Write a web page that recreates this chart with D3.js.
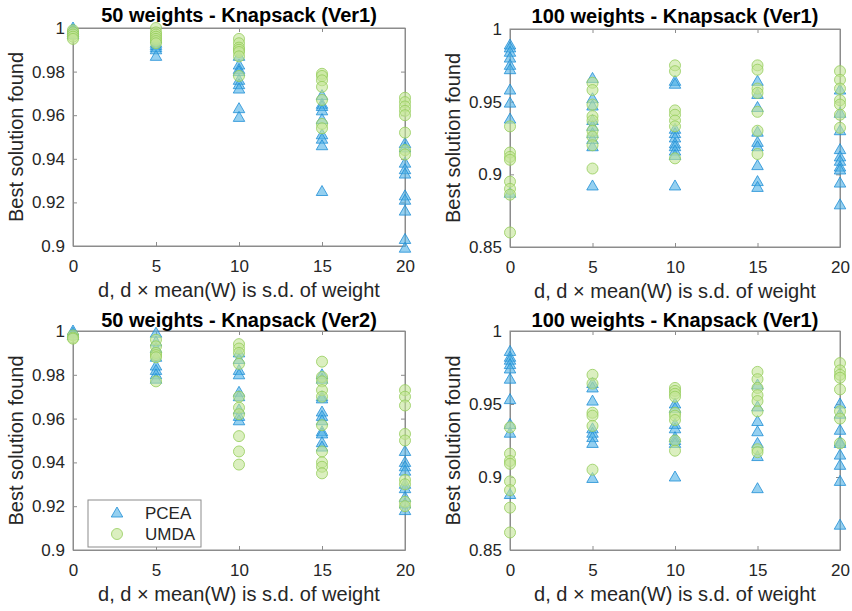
<!DOCTYPE html>
<html>
<head>
<meta charset="utf-8">
<script src="https://cdn.jsdelivr.net/npm/d3@7"></script>
<style>
  html, body { margin: 0; padding: 0; background: #fff; }
  svg { display: block; font-family: "Liberation Sans", Arial, Helvetica, sans-serif; }
</style>
</head>
<body>
<svg id="chart" width="852" height="611"></svg>
<script>
// ---------- DATA ----------
const xValues = [0, 5, 10, 15, 20];
const xTickLabels = ["0", "5", "10", "15", "20"];
const seriesNames = ["PCEA", "UMDA"];
const panelTitles = [
  "50 weights - Knapsack (Ver1)",
  "100 weights - Knapsack (Ver1)",
  "50 weights - Knapsack (Ver2)",
  "100 weights - Knapsack (Ver1)"
];
const xAxisLabel = "d, d \u00d7 mean(W) is s.d. of weight";
const yAxisLabel = "Best solution found";
const yTicksA = [0.9, 0.92, 0.94, 0.96, 0.98, 1];
const yTickLabelsA = ["0.9", "0.92", "0.94", "0.96", "0.98", "1"];
const yTicksB = [0.85, 0.9, 0.95, 1];
const yTickLabelsB = ["0.85", "0.9", "0.95", "1"];

// Panel 1: 50 weights Ver1 (per x value)
const p1PCEA = [
  [1.0, 0.999, 0.998, 0.997],
  [0.995, 0.993, 0.992, 0.991, 0.990, 0.987],
  [0.987, 0.983, 0.981, 0.980, 0.976, 0.974, 0.972, 0.963, 0.959],
  [0.969, 0.965, 0.964, 0.962, 0.958, 0.951, 0.949, 0.946, 0.925],
  [0.947, 0.945, 0.938, 0.935, 0.933, 0.923, 0.921, 0.916, 0.903, 0.899]
];
const p1UMDA = [
  [0.999, 0.998, 0.997, 0.996, 0.995],
  [1.0, 0.998, 0.997, 0.996, 0.995, 0.994, 0.993],
  [0.995, 0.993, 0.991, 0.990, 0.989, 0.987, 0.978],
  [0.979, 0.978, 0.976, 0.973, 0.967, 0.956, 0.954],
  [0.968, 0.966, 0.964, 0.962, 0.960, 0.952, 0.944, 0.942]
];
// Panel 2: 100 weights Ver1 (top)
const p2PCEA = [
  [0.989, 0.987, 0.984, 0.980, 0.975, 0.972, 0.958, 0.949, 0.938, 0.887],
  [0.966, 0.952, 0.947, 0.937, 0.933, 0.928, 0.924, 0.919, 0.892],
  [0.964, 0.962, 0.931, 0.928, 0.925, 0.921, 0.919, 0.916, 0.913, 0.892],
  [0.964, 0.955, 0.946, 0.929, 0.922, 0.919, 0.906, 0.895, 0.891],
  [0.958, 0.942, 0.930, 0.917, 0.912, 0.909, 0.905, 0.903, 0.894, 0.879]
];
const p2UMDA = [
  [0.933, 0.915, 0.912, 0.910, 0.895, 0.890, 0.886, 0.860],
  [0.963, 0.958, 0.948, 0.940, 0.937, 0.930, 0.926, 0.920, 0.904],
  [0.975, 0.971, 0.944, 0.941, 0.937, 0.933, 0.911],
  [0.975, 0.972, 0.959, 0.956, 0.943, 0.930, 0.914],
  [0.971, 0.965, 0.959, 0.951, 0.948, 0.941, 0.932]
];
// Panel 3: 50 weights Ver2
const p3PCEA = [
  [1.0, 0.999, 0.998],
  [0.999, 0.995, 0.992, 0.988, 0.984, 0.982, 0.980, 0.978],
  [0.990, 0.987, 0.982, 0.980, 0.972, 0.970, 0.964, 0.961, 0.959],
  [0.980, 0.978, 0.970, 0.969, 0.963, 0.961, 0.959, 0.954, 0.953, 0.949, 0.947],
  [0.945, 0.940, 0.938, 0.936, 0.930, 0.928, 0.924, 0.921, 0.918]
];
const p3UMDA = [
  [0.998, 0.997, 0.9965],
  [0.996, 0.993, 0.990, 0.989, 0.988, 0.977],
  [0.994, 0.992, 0.990, 0.985, 0.970, 0.965, 0.962, 0.952, 0.945, 0.939],
  [0.986, 0.979, 0.977, 0.973, 0.970, 0.957, 0.945, 0.940, 0.938, 0.935],
  [0.973, 0.970, 0.966, 0.953, 0.950, 0.932, 0.930, 0.922, 0.920]
];
// Panel 4: 100 weights Ver1 (bottom)
const p4PCEA = [
  [0.986, 0.982, 0.980, 0.977, 0.974, 0.967, 0.953, 0.936, 0.930, 0.888],
  [0.964, 0.961, 0.952, 0.933, 0.930, 0.927, 0.923, 0.899],
  [0.950, 0.947, 0.936, 0.933, 0.927, 0.925, 0.923, 0.900],
  [0.963, 0.948, 0.938, 0.931, 0.923, 0.914, 0.892],
  [0.950, 0.943, 0.932, 0.924, 0.923, 0.915, 0.908, 0.897, 0.867]
];
const p4UMDA = [
  [0.934, 0.916, 0.911, 0.909, 0.897, 0.891, 0.879, 0.862],
  [0.970, 0.964, 0.944, 0.942, 0.935, 0.905],
  [0.961, 0.959, 0.957, 0.955, 0.944, 0.942, 0.939, 0.925, 0.918],
  [0.972, 0.967, 0.961, 0.956, 0.952, 0.945, 0.919, 0.917],
  [0.978, 0.973, 0.970, 0.968, 0.960, 0.945, 0.940, 0.923]
];

// ---------- LAYOUT / STYLE ----------
const svg = d3.select("#chart");
const axisColor = "#8c8c8c";
const textColor = "#262626";
const triFill = "#4fb0e6", triStroke = "#1f8fd6";
const cirFill = "#c3e596", cirStroke = "#95cd5a";
const fontFam = "Liberation Sans, Arial, sans-serif";

const panels = [
  { left: 73, right: 405, top: 28, bottom: 246, yDomain: [0.9, 1], yTicks: yTicksA, yLabels: yTickLabelsA, pcea: p1PCEA, umda: p1UMDA, title: panelTitles[0], legend: false },
  { left: 510, right: 840, top: 29, bottom: 247, yDomain: [0.85, 1], yTicks: yTicksB, yLabels: yTickLabelsB, pcea: p2PCEA, umda: p2UMDA, title: panelTitles[1], legend: false },
  { left: 73, right: 405, top: 331, bottom: 550, yDomain: [0.9, 1], yTicks: yTicksA, yLabels: yTickLabelsA, pcea: p3PCEA, umda: p3UMDA, title: panelTitles[2], legend: true },
  { left: 510, right: 840, top: 331, bottom: 550, yDomain: [0.85, 1], yTicks: yTicksB, yLabels: yTickLabelsB, pcea: p4PCEA, umda: p4UMDA, title: panelTitles[3], legend: false }
];

function triPath(cx, cy) {
  const w = 11.5, h = 10;
  return `M${cx},${cy - h * 0.6}L${cx + w / 2},${cy + h * 0.4}L${cx - w / 2},${cy + h * 0.4}Z`;
}

panels.forEach((p, pi) => {
  const x = d3.scaleLinear().domain([0, 20]).range([p.left, p.right]);
  const y = d3.scaleLinear().domain(p.yDomain).range([p.bottom, p.top]);
  const g = svg.append("g");

  // box
  g.append("rect").attr("x", p.left).attr("y", p.top)
    .attr("width", p.right - p.left).attr("height", p.bottom - p.top)
    .attr("fill", "none").attr("stroke", axisColor).attr("stroke-width", 1);

  // bottom axis (ticks inward)
  const xAxis = d3.axisBottom(x).tickValues(xValues)
    .tickFormat((d, i) => xTickLabels[i]).tickSizeInner(-4).tickSizeOuter(0).tickPadding(14);
  const gx = g.append("g").attr("transform", `translate(0,${p.bottom})`).call(xAxis);
  gx.select(".domain").attr("stroke", axisColor);
  gx.selectAll(".tick line").attr("stroke", axisColor);
  gx.selectAll(".tick text").attr("fill", textColor).attr("font-size", 17).attr("font-family", fontFam);
  // top axis ticks
  const xTop = d3.axisTop(x).tickValues(xValues).tickFormat("").tickSizeInner(-4).tickSizeOuter(0);
  const gxt = g.append("g").attr("transform", `translate(0,${p.top})`).call(xTop);
  gxt.select(".domain").attr("stroke", axisColor);
  gxt.selectAll(".tick line").attr("stroke", axisColor);

  // left axis
  const yAxis = d3.axisLeft(y).tickValues(p.yTicks)
    .tickFormat((d, i) => p.yLabels[i]).tickSizeInner(-4).tickSizeOuter(0).tickPadding(8);
  const gy = g.append("g").attr("transform", `translate(${p.left},0)`).call(yAxis);
  gy.select(".domain").attr("stroke", axisColor);
  gy.selectAll(".tick line").attr("stroke", axisColor);
  gy.selectAll(".tick text").attr("fill", textColor).attr("font-size", 17).attr("font-family", fontFam);
  // right ticks
  const yRight = d3.axisRight(y).tickValues(p.yTicks).tickFormat("").tickSizeInner(-4).tickSizeOuter(0);
  const gyr = g.append("g").attr("transform", `translate(${p.right},0)`).call(yRight);
  gyr.select(".domain").attr("stroke", axisColor);
  gyr.selectAll(".tick line").attr("stroke", axisColor);

  // points
  const pceaPts = [], umdaPts = [];
  xValues.forEach((xv, i) => {
    p.pcea[i].forEach(v => pceaPts.push({ x: xv, y: v }));
    p.umda[i].forEach(v => umdaPts.push({ x: xv, y: v }));
  });
  g.append("g").selectAll("path").data(pceaPts).join("path")
    .attr("d", d => triPath(x(d.x), y(d.y)))
    .attr("fill", triFill).attr("fill-opacity", 0.6)
    .attr("stroke", triStroke).attr("stroke-opacity", 0.8).attr("stroke-width", 1);
  g.append("g").selectAll("circle").data(umdaPts).join("circle")
    .attr("cx", d => x(d.x)).attr("cy", d => y(d.y)).attr("r", 5.5)
    .attr("fill", cirFill).attr("fill-opacity", 0.6)
    .attr("stroke", cirStroke).attr("stroke-opacity", 0.8).attr("stroke-width", 1);

  // title
  svg.append("text").attr("x", (p.left + p.right) / 2).attr("y", p.top - (pi < 2 ? 6 : 4.5))
    .attr("text-anchor", "middle").attr("font-weight", "bold").attr("font-size", 20)
    .attr("fill", "#000").text(p.title);
  // x label
  svg.append("text").attr("x", (p.left + p.right) / 2).attr("y", p.bottom + 51)
    .attr("text-anchor", "middle").attr("font-size", 20).attr("fill", textColor)
    .text(xAxisLabel);
  // y label
  const cy = (p.top + p.bottom) / 2, cx = p.left - 50;
  svg.append("text").attr("transform", `translate(${cx},${cy}) rotate(-90)`)
    .attr("text-anchor", "middle").attr("font-size", 20).attr("fill", textColor)
    .text(yAxisLabel);

  if (p.legend) {
    const lg = svg.append("g");
    lg.append("rect").attr("x", 88).attr("y", 500).attr("width", 113).attr("height", 47)
      .attr("fill", "#fff").attr("stroke", axisColor).attr("stroke-width", 1);
    lg.append("path").attr("d", triPath(117, 513))
      .attr("fill", triFill).attr("fill-opacity", 0.6)
      .attr("stroke", triStroke).attr("stroke-opacity", 0.8);
    lg.append("circle").attr("cx", 117).attr("cy", 534).attr("r", 5.5)
      .attr("fill", cirFill).attr("fill-opacity", 0.6)
      .attr("stroke", cirStroke).attr("stroke-opacity", 0.8);
    lg.append("text").attr("x", 145).attr("y", 519).attr("font-size", 17)
      .attr("fill", textColor).text(seriesNames[0]);
    lg.append("text").attr("x", 145).attr("y", 540).attr("font-size", 17)
      .attr("fill", textColor).text(seriesNames[1]);
  }
});
</script>
</body>
</html>
